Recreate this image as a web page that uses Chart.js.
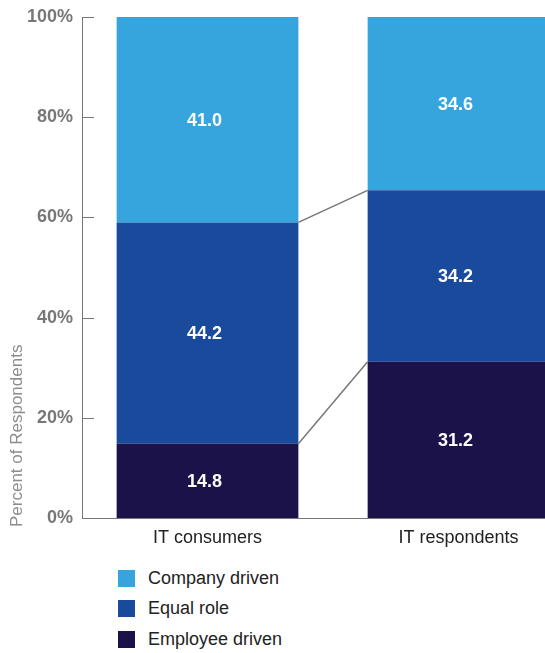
<!DOCTYPE html>
<html>
<head>
<meta charset="utf-8">
<script src="https://cdn.jsdelivr.net/npm/chart.js@4.4.1/dist/chart.umd.min.js"></script>
<style>
  html, body { margin: 0; padding: 0; background: #fff; overflow: hidden; width: 545px; height: 653px; }
  #wrap { position: absolute; left: 0; top: 0; width: 585px; height: 560px; }
  #legend { position: absolute; left: 118px; top: 563px; font-family: "Liberation Sans", Arial, sans-serif; font-size: 18px; color: #222; }
  .item { height: 30.5px; display: flex; align-items: center; }
  .box { width: 17px; height: 17px; margin-right: 13px; }
</style>
</head>
<body>
<div id="wrap"><canvas id="c" width="585" height="560"></canvas></div>
<div id="legend"></div>
<script>
const categories = ["IT consumers", "IT respondents"];
const employeeDriven = [14.8, 31.2];
const equalRole = [44.2, 34.2];
const companyDriven = [41.0, 34.6];
const yTicks = [0, 20, 40, 60, 80, 100];
const yTitle = "Percent of Respondents";
const seriesNames = ["Employee driven", "Equal role", "Company driven"];
const seriesColors = ["#1a1249", "#1a4a9c", "#36a5de"];

const FONT = '"Liberation Sans", Arial, Helvetica, sans-serif';

const labelsPlugin = {
  id: 'valueLabels',
  afterDatasetsDraw(chart) {
    const ctx = chart.ctx;
    ctx.save();
    // connector lines
    ctx.strokeStyle = '#777';
    ctx.lineWidth = 1.5;
    for (let d = 0; d < 2; d++) {
      const meta = chart.getDatasetMeta(d);
      const a = meta.data[0], b = meta.data[1];
      ctx.beginPath();
      ctx.moveTo(a.x + a.width / 2, a.y);
      ctx.lineTo(b.x - b.width / 2, b.y);
      ctx.stroke();
    }
    // value labels
    ctx.fillStyle = '#fff';
    ctx.font = 'bold 18px ' + FONT;
    ctx.textAlign = 'center';
    ctx.textBaseline = 'middle';
    chart.data.datasets.forEach((ds, i) => {
      const meta = chart.getDatasetMeta(i);
      meta.data.forEach((el, j) => {
        ctx.fillText(ds.data[j].toFixed(1), el.x - 3, (el.y + el.base) / 2 + 1);
      });
    });
    // inner tick marks on y axis
    const ys = chart.scales.y;
    ctx.strokeStyle = '#777';
    ctx.lineWidth = 1;
    yTicks.forEach(v => {
      if (v === 0) return;
      const py = Math.round(ys.getPixelForValue(v)) + 0.5;
      ctx.beginPath();
      ctx.moveTo(ys.right, py);
      ctx.lineTo(ys.right + 12, py);
      ctx.stroke();
    });
    // y axis title
    ctx.save();
    ctx.translate(17, ys.getPixelForValue(0) + 9);
    ctx.rotate(-Math.PI / 2);
    ctx.fillStyle = '#8c8c8c';
    ctx.font = '17px ' + FONT;
    ctx.textAlign = 'left';
    ctx.textBaseline = 'middle';
    ctx.fillText(yTitle, 0, 0);
    ctx.restore();
    ctx.restore();
  }
};

const datasets = [employeeDriven, equalRole, companyDriven].map((arr, i) => ({
  label: seriesNames[i],
  data: arr,
  backgroundColor: seriesColors[i],
  borderWidth: 0,
  barPercentage: 181 / 250,
  categoryPercentage: 1
}));

new Chart(document.getElementById('c'), {
  type: 'bar',
  data: { labels: categories, datasets },
  options: {
    responsive: false,
    animation: false,
    devicePixelRatio: 1,
    layout: { padding: { top: 17, right: 1, left: 0, bottom: 0 } },
    plugins: { legend: { display: false }, tooltip: { enabled: false } },
    scales: {
      x: {
        stacked: true,
        grid: { display: false, drawTicks: false },
        border: { display: true, color: '#777', width: 1 },
        ticks: { color: '#222', font: { family: FONT, size: 18 }, padding: 9 },
        afterFit(s) { s.height = 42; }
      },
      y: {
        stacked: true,
        min: 0, max: 100,
        afterBuildTicks(s) { s.ticks = yTicks.map(v => ({ value: v })); },
        grid: { display: false, drawTicks: false },
        border: { display: true, color: '#777', width: 1 },
        ticks: { color: '#777', font: { family: FONT, size: 18, weight: 'bold', lineHeight: 1 }, padding: 9,
                 callback: v => v + '%' },
        afterFit(s) { s.width = 82; s.paddingTop = 0; s.paddingBottom = 0; }
      }
    }
  },
  plugins: [labelsPlugin]
});

// HTML legend (top series first)
const leg = document.getElementById('legend');
[2, 1, 0].forEach(i => {
  const row = document.createElement('div');
  row.className = 'item';
  const b = document.createElement('div');
  b.className = 'box';
  b.style.background = seriesColors[i];
  const t = document.createElement('span');
  t.textContent = seriesNames[i];
  row.appendChild(b); row.appendChild(t);
  leg.appendChild(row);
});
</script>
</body>
</html>
